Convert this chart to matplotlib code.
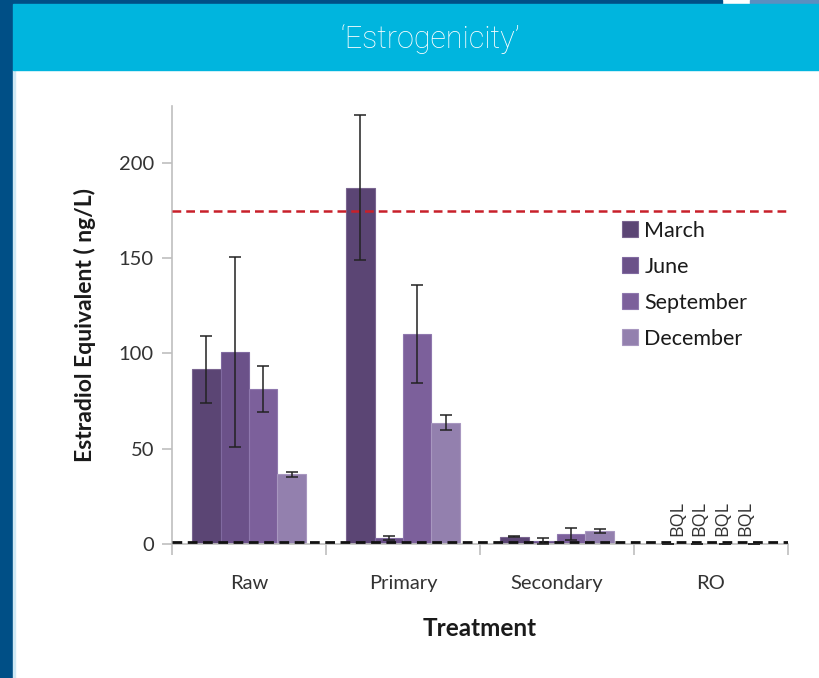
import matplotlib.pyplot as plt
import matplotlib.patches as patches
import numpy as np

# --- data ---
categories = ["Raw", "Primary", "Secondary", "RO"]
months = ["March", "June", "September", "December"]
march = [91.7, 187.0, 3.8, 0.0]
june = [100.8, 3.1, 1.7, 0.0]
september = [81.2, 110.2, 5.2, 0.0]
december = [36.5, 63.6, 7.0, 0.0]
march_err = [17.6, 38.0, 0.3, 0.0]
june_err = [50.0, 1.0, 1.5, 0.0]
september_err = [12.0, 25.6, 3.0, 0.0]
december_err = [1.4, 3.9, 1.0, 0.0]
bql = [False, False, False, True]
upper_limit = 175
lower_limit = 1

series = [march, june, september, december]
errors = [march_err, june_err, september_err, december_err]
colors = ["#5b4574", "#6b5189", "#7c609b", "#9380ae"]
edges = ["#7a6590", "#806aa0", "#8f78ae", "#a897c0"]

plt.rcParams['font.family'] = ['Lato', 'DejaVu Sans']

fig = plt.figure(figsize=(8.2, 6.78), dpi=100)

# header decoration
fig.patches.append(patches.Rectangle((0, 0), 13 / 820, 1, transform=fig.transFigure,
                                     color="#004f86", zorder=0))
fig.patches.append(patches.Rectangle((13 / 820, 0), 2 / 820, 1 - 70 / 678,
                                     transform=fig.transFigure, color="#cfe9f5", zorder=0))
fig.patches.append(patches.Rectangle((0, 1 - 4 / 678), 722 / 820, 4 / 678,
                                     transform=fig.transFigure, color="#004f86", zorder=1))
fig.patches.append(patches.Rectangle((750 / 820, 1 - 4 / 678), 70 / 820, 4 / 678,
                                     transform=fig.transFigure, color="#5b8fc0", zorder=1))
fig.patches.append(patches.Rectangle((13 / 820, 1 - 70 / 678), 807 / 820, 66 / 678,
                                     transform=fig.transFigure, color="#00b5de", zorder=1))
fig.text(430 / 820, 1 - 39 / 678, "\u2018Estrogenicity\u2019", color="white",
         fontsize=22, ha="center", va="center", family=["Roboto", "DejaVu Sans"],
         fontweight="light")

ax = fig.add_axes([172 / 820, 1 - 544 / 678, 616 / 820, (544 - 105.7) / 678])

x = np.arange(len(categories))
width = 0.184
offsets = (np.arange(4) - 1.5) * width
for i, (vals, errs) in enumerate(zip(series, errors)):
    ax.bar(x + offsets[i], vals, width, color=colors[i], edgecolor=edges[i],
           linewidth=0.8, label=months[i], zorder=2)
    ax.errorbar(x + offsets[i], vals, yerr=errs, fmt="none", ecolor="#222222",
                elinewidth=1.1, capsize=4, capthick=1.1, zorder=4)
    for j, flag in enumerate(bql):
        if flag:
            ax.text(x[j] + offsets[i] * 0.8, 4.3, "BQL", rotation=90, ha="center",
                    va="bottom", fontsize=13, color="#333333",
                    family=["Open Sans", "DejaVu Sans"])

ax.axhline(upper_limit, color="#c8202a", linestyle=(0, (3.5, 2)), linewidth=1.8, zorder=3)
ax.axhline(lower_limit, color="#111111", linestyle=(0, (3.5, 2)), linewidth=2.0, zorder=3)

ax.set_xlim(-0.5, len(categories) - 0.5)
ax.set_ylim(0, 230)
ax.set_yticks([0, 50, 100, 150, 200])
ax.set_xticks(x)
ax.set_xticklabels(categories)
ax.set_xticks(np.arange(len(categories) + 1) - 0.5, minor=True)
ax.tick_params(axis="x", which="major", length=0, pad=22, labelsize=14.5, labelcolor="#333333")
ax.tick_params(axis="x", which="minor", length=8, width=1.2, color="#bfbfbf")
ax.tick_params(axis="y", length=7, width=1.2, color="#bfbfbf", labelsize=14.5,
               labelcolor="#333333", pad=6)
for side in ["top", "right"]:
    ax.spines[side].set_visible(False)
for side in ["left", "bottom"]:
    ax.spines[side].set_color("#bfbfbf")
    ax.spines[side].set_linewidth(1.2)

ax.set_ylabel("Estradiol Equivalent ( ng/L)", fontsize=16.5, fontweight="bold",
              color="#1a1a1a", labelpad=16)
ax.set_xlabel("Treatment", fontsize=17.5, fontweight="bold", color="#1a1a1a", labelpad=18)

leg = ax.legend(loc="upper left", bbox_to_anchor=(0.716, 0.757), frameon=False,
                fontsize=15.5, handlelength=0.75, handleheight=0.75, handletextpad=0.3,
                labelspacing=0.74, borderaxespad=0)
leg.set_zorder(5)
for t in leg.get_texts():
    t.set_color("#1a1a1a")

fig.savefig("out.png", dpi=100)
